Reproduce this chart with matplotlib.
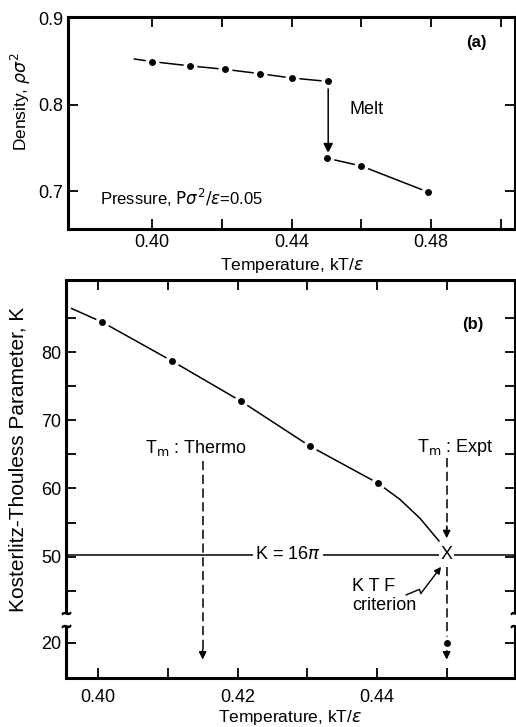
import numpy as np
import matplotlib.pyplot as plt
import matplotlib.transforms as mtransforms
from matplotlib.ticker import FixedLocator, NullFormatter

plt.rcParams['font.family'] = ['Liberation Sans', 'DejaVu Sans']
plt.rcParams['mathtext.fontset'] = 'dejavusans'

# ---- panel (a): density vs temperature
temp_solid = [0.395, 0.400, 0.411, 0.421, 0.431, 0.440, 0.4505]
dens_solid = [0.853, 0.850, 0.845, 0.841, 0.836, 0.831, 0.827]
temp_liquid = [0.4502, 0.460, 0.479]
dens_liquid = [0.738, 0.729, 0.699]

# ---- panel (b): KT parameter vs temperature
temp_curve = [0.3962, 0.4006, 0.4106, 0.4205, 0.4304, 0.4401, 0.4433, 0.4462, 0.4489]
k_curve = [86.4, 84.4, 78.7, 72.8, 66.2, 60.8, 58.4, 55.6, 52.3]
temp_pts = [0.4006, 0.4106, 0.4205, 0.4304, 0.4401]
k_pts = [84.4, 78.7, 72.8, 66.2, 60.8]
temp_expt = 0.450
k_expt_pt = 20.0
temp_thermo = 0.415
k_ktf = 16 * np.pi

SPINE_W = 2.2
DOT = dict(marker='o', ms=7.5, mfc='black', mec='white', mew=2.5, ls='none', zorder=4)

fig = plt.figure(figsize=(5.16, 7.27), dpi=100)

# =================== (a)
ax = fig.add_axes([0.132, 0.685, 0.866, 0.292])
ax.plot(temp_solid, dens_solid, color='black', lw=1.1, zorder=3)
ax.plot(temp_liquid, dens_liquid, color='black', lw=1.1, zorder=3)
ax.plot(temp_solid[1:], dens_solid[1:], **DOT)
ax.plot(temp_liquid, dens_liquid, **DOT)
ax.annotate('', xy=(0.4505, 0.744), xytext=(0.4505, 0.823),
            arrowprops=dict(arrowstyle='-|>', color='black', lw=1.1,
                            mutation_scale=14, shrinkA=0, shrinkB=0))
ax.text(0.4615, 0.795, 'Melt', fontsize=13, ha='center', va='center')
ax.text(0.493, 0.872, '(a)', fontsize=12, ha='center', va='center', weight='bold')
ax.text(0.385, 0.692, r'Pressure, $\mathrm{P}\sigma^2/\epsilon$=0.05', fontsize=12,
        ha='left', va='center')
ax.set_xlim(0.376, 0.504)
ax.set_ylim(0.656, 0.902)
ax.set_xticks([0.40, 0.44, 0.48])
ax.set_xticklabels(['0.40', '0.44', '0.48'])
ax.xaxis.set_minor_locator(FixedLocator([0.42, 0.46, 0.50]))
ax.set_yticks([0.7, 0.8, 0.9])
ax.set_yticklabels(['0.7', '0.8', '0.9'])
ax.tick_params(which='both', direction='in', top=True, right=True, labelsize=13,
               width=1.3, length=7)
for s in ax.spines.values():
    s.set_linewidth(SPINE_W)
ax.set_xlabel(r'Temperature, kT/$\epsilon$', fontsize=12.5, labelpad=4)
ax.set_ylabel(r'Density, $\rho\sigma^2$', fontsize=12.5)
ax.yaxis.set_label_coords(-0.078, 0.60)

# =================== (b) with broken y axis
HI, LO, GAP = 41.6, 22.6, 1.6
SHIFT = HI - GAP - LO


def fwd(y):
    y = np.asarray(y, dtype=float)
    return np.where(y >= HI, y,
                    np.where(y <= LO, y + SHIFT, HI - GAP + (y - LO) * GAP / (HI - LO)))


def inv(z):
    z = np.asarray(z, dtype=float)
    return np.where(z >= HI, z,
                    np.where(z <= HI - GAP, z - SHIFT, LO + (z - (HI - GAP)) * (HI - LO) / GAP))


bx = fig.add_axes([0.128, 0.0674, 0.870, 0.5476])
bx.set_yscale('function', functions=(fwd, inv))
bx.set_xlim(0.3954, 0.4598)
bx.set_ylim(14.8, 90.6)

bx.plot(temp_curve, k_curve, color='black', lw=1.1, zorder=3)
bx.plot(temp_pts, k_pts, **DOT)
bx.plot([temp_expt], [k_expt_pt], **DOT)

# K = 16 pi line
bx.axhline(k_ktf, color='black', lw=1.1, zorder=2)
bx.text(0.4272, k_ktf, r'K = 16$\pi$', fontsize=13, ha='center', va='center',
        bbox=dict(facecolor='white', edgecolor='none', pad=1.5), zorder=3)
bx.text(temp_expt, k_ktf, 'X', fontsize=13, ha='center', va='center',
        bbox=dict(facecolor='white', edgecolor='none', pad=1.0), zorder=5)

dash = dict(color='black', lw=1.1, dashes=(6, 3), zorder=2)
arr = dict(arrowstyle='-|>', color='black', lw=1.1, mutation_scale=11,
           shrinkA=0, shrinkB=0)

# Tm : Thermo
bx.plot([temp_thermo, temp_thermo], [64.1, 18.5], **dash)
bx.annotate('', xy=(temp_thermo, 17.5), xytext=(temp_thermo, 19.0), arrowprops=arr)
bx.text(0.4141, 66.0, r'T$_\mathrm{m}$ : Thermo', fontsize=13, ha='center', va='center')

# Tm : Expt
bx.plot([temp_expt, temp_expt], [64.5, 54.0], **dash)
bx.annotate('', xy=(temp_expt, 52.7), xytext=(temp_expt, 54.5), arrowprops=arr)
bx.plot([temp_expt, temp_expt], [48.5, 18.5], **dash)
bx.annotate('', xy=(temp_expt, 17.5), xytext=(temp_expt, 19.0), arrowprops=arr)
bx.text(0.4513, 66.0, r'T$_\mathrm{m}$ : Expt', fontsize=13, ha='center', va='center')

# KTF criterion with squiggle arrow
bx.text(0.4364, 45.6, 'K T F', fontsize=13, ha='left', va='center')
bx.text(0.4364, 42.9, 'criterion', fontsize=13, ha='left', va='center')
bx.plot([0.4442, 0.4461, 0.4463], [44.4, 45.2, 44.6], color='black', lw=1.0)
bx.annotate('', xy=(0.4492, 48.5), xytext=(0.4463, 44.6),
            arrowprops=dict(arrowstyle='-|>', color='black', lw=1.0,
                            mutation_scale=10, shrinkA=0, shrinkB=0))

bx.text(0.4538, 84.0, '(b)', fontsize=12, ha='center', va='center', weight='bold')

bx.set_xticks([0.40, 0.42, 0.44])
bx.set_xticklabels(['0.40', '0.42', '0.44'])
bx.xaxis.set_minor_locator(FixedLocator([0.41, 0.43, 0.45]))
bx.yaxis.set_major_locator(FixedLocator([20, 50, 60, 70, 80]))
bx.yaxis.set_minor_locator(FixedLocator([45, 55, 65, 75, 85]))
bx.yaxis.set_major_formatter(plt.FixedFormatter(['20', '50', '60', '70', '80']))
bx.yaxis.set_minor_formatter(NullFormatter())
bx.tick_params(which='both', direction='in', top=True, right=True, labelsize=13,
               width=1.3, length=7)
bx.tick_params(axis='x', pad=8)

# spines: left/right drawn in two pieces around the break
for side in ('top', 'bottom'):
    bx.spines[side].set_linewidth(SPINE_W)
bx.spines['left'].set_visible(False)
bx.spines['right'].set_visible(False)
blend = mtransforms.blended_transform_factory(bx.transAxes, bx.transData)
for xs in (0, 1):
    bx.plot([xs, xs], [14.8, 22.4], color='black', lw=SPINE_W, transform=blend,
            clip_on=False, solid_capstyle='butt')
    bx.plot([xs, xs], [41.8, 90.6], color='black', lw=SPINE_W, transform=blend,
            clip_on=False, solid_capstyle='butt')
    bx.plot([xs, xs], [22.4, 41.8], ls='none', marker=r'$\sim$', ms=6, color='black',
            transform=blend, clip_on=False)

bx.set_xlabel(r'Temperature, kT/$\epsilon$', fontsize=12.5, labelpad=1)
bx.set_ylabel('Kosterlitz-Thouless Parameter, K', fontsize=15)
bx.yaxis.set_label_coords(-0.085, 0.55)

fig.savefig('out.png', dpi=100, facecolor='white')
